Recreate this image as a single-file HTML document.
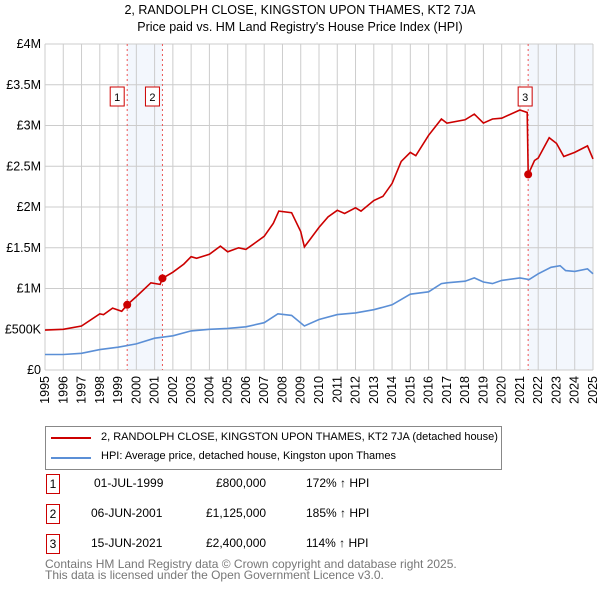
<!DOCTYPE html>
<html><head><meta charset="utf-8"><style>
body{margin:0;background:#fff;font-family:"Liberation Sans","DejaVu Sans",sans-serif;}
#wrap{position:relative;width:600px;height:590px;overflow:hidden}
.t{position:absolute;font-size:12px;color:#000;white-space:nowrap}
.box{position:absolute;border:1px solid #c00;width:12px;height:18px;text-align:center;line-height:18px;font-size:12px}
</style></head><body>
<div id="wrap">
<svg id="chart" width="600" height="420" style="position:absolute;left:0;top:0"></svg>
<div style="position:absolute;left:45px;top:426px;width:455px;height:42px;border:1px solid #888;">
 <div style="position:absolute;left:5px;top:10px;width:40px;height:2px;background:#c00"></div>
 <div class="t" style="left:55px;top:4px;font-size:11px">2, RANDOLPH CLOSE, KINGSTON UPON THAMES, KT2 7JA (detached house)</div>
 <div style="position:absolute;left:5px;top:30px;width:40px;height:2px;background:#5b8fd6"></div>
 <div class="t" style="left:55px;top:23px;font-size:11px">HPI: Average price, detached house, Kingston upon Thames</div>
</div>
<div>
 <div class="box" style="left:46px;top:474px">1</div>
 <div class="t" style="left:94px;top:476px">01-JUL-1999</div>
 <div class="t" style="left:216px;top:476px">£800,000</div>
 <div class="t" style="left:306px;top:476px">172% ↑ HPI</div>
 <div class="box" style="left:46px;top:504px">2</div>
 <div class="t" style="left:91px;top:506px">06-JUN-2001</div>
 <div class="t" style="left:206px;top:506px">£1,125,000</div>
 <div class="t" style="left:306px;top:506px">185% ↑ HPI</div>
 <div class="box" style="left:46px;top:534px">3</div>
 <div class="t" style="left:91px;top:536px">15-JUN-2021</div>
 <div class="t" style="left:206px;top:536px">£2,400,000</div>
 <div class="t" style="left:306px;top:536px">114% ↑ HPI</div>
</div>
<div class="t" style="left:45px;top:559px;color:#777;line-height:11px">Contains HM Land Registry data © Crown copyright and database right 2025.<br>This data is licensed under the Open Government Licence v3.0.</div>
</div>
<script>
const yTicks=[0,500000,1000000,1500000,2000000,2500000,3000000,3500000,4000000];
const yTickLabels=["£0","£500K","£1M","£1.5M","£2M","£2.5M","£3M","£3.5M","£4M"];
const xYears=[1995,1996,1997,1998,1999,2000,2001,2002,2003,2004,2005,2006,2007,2008,2009,2010,2011,2012,2013,2014,2015,2016,2017,2018,2019,2020,2021,2022,2023,2024,2025];
const saleLabels=["1","2","3"];
const saleDates=[1999.5,2001.43,2021.45];
const salePrices=[800000,1125000,2400000];
const hpiT=[1995,1996,1997,1998,1999,2000,2001,2002,2003,2004,2005,2006,2007,2007.75,2008.5,2009.2,2010,2011,2012,2013,2014,2015,2016,2016.7,2017,2018,2018.5,2019,2019.5,2020,2021,2021.5,2022,2022.7,2023.2,2023.5,2024,2024.7,2025];
const hpiV=[190000,190000,205000,250000,280000,320000,390000,420000,480000,500000,510000,530000,580000,690000,670000,540000,620000,680000,700000,740000,800000,930000,960000,1060000,1070000,1090000,1130000,1080000,1060000,1100000,1130000,1110000,1180000,1260000,1280000,1220000,1210000,1240000,1180000];
const redT=[1995,1996,1997,1998,1998.2,1998.7,1999.2,1999.5,2000,2000.8,2001.3,2001.43,2002,2002.6,2003,2003.3,2004,2004.6,2005,2005.6,2006,2006.5,2007,2007.5,2007.8,2008.5,2009,2009.2,2009.5,2010,2010.5,2011,2011.4,2012,2012.3,2013,2013.5,2014,2014.5,2015,2015.3,2016,2016.7,2017,2018,2018.5,2019,2019.5,2020,2021,2021.4,2021.45,2021.8,2022,2022.6,2023,2023.4,2024,2024.7,2025];
const redV=[490000,500000,540000,690000,680000,760000,720000,800000,900000,1070000,1050000,1125000,1200000,1300000,1390000,1370000,1420000,1520000,1450000,1500000,1480000,1560000,1640000,1800000,1950000,1930000,1700000,1510000,1600000,1750000,1880000,1960000,1920000,1990000,1950000,2080000,2130000,2290000,2560000,2670000,2630000,2880000,3080000,3030000,3070000,3140000,3030000,3080000,3090000,3190000,3160000,2400000,2570000,2600000,2850000,2780000,2620000,2670000,2750000,2590000];
const X0=45,X1=593,Y0=370,Y1=44;
const xs=t=>X0+(t-1995)/30*(X1-X0);
const ys=v=>Y0-v/4000000*(Y0-Y1);
const svg=document.getElementById('chart');
const NS='http://www.w3.org/2000/svg';
function mk(tag,attrs,parent){const e=document.createElementNS(NS,tag);for(const k in attrs)e.setAttribute(k,attrs[k]);(parent||svg).appendChild(e);return e;}
let e;
e=mk('rect',{x:xs(saleDates[0]),y:Y1,width:xs(saleDates[1])-xs(saleDates[0]),height:Y0-Y1,fill:'#eef3fc',opacity:0.7});


e=mk('rect',{x:xs(saleDates[2]),y:Y1,width:X1-xs(saleDates[2]),height:Y0-Y1,fill:'#eef3fc',opacity:0.7});


yTicks.forEach((v,i)=>{
 e=mk('line',{x1:X0,x2:X1,y1:ys(v),y2:ys(v),stroke:'#ccc','stroke-width':1});
 
 
 e=mk('text',{x:X0-4,y:ys(v)+4,'text-anchor':'end','font-size':12.5,fill:'#000'});
 e.textContent=yTickLabels[i];
 
 
});
xYears.forEach(yr=>{
 e=mk('line',{x1:xs(yr),x2:xs(yr),y1:Y1,y2:Y0,stroke:'#ccc','stroke-width':1});
 
 
 e=mk('text',{x:0,y:0,'font-size':12.5,fill:'#000','text-anchor':'end',transform:`translate(${xs(yr)+4},${Y0+6}) rotate(-90)`});
 e.textContent=yr;
 
 
});
saleDates.forEach((d,i)=>{
 e=mk('line',{x1:xs(d),x2:xs(d),y1:Y1,y2:Y0,stroke:'#e55','stroke-width':1,'stroke-dasharray':'2,3'});
 
 
});
const pts=(T,V)=>T.map((t,i)=>xs(t).toFixed(1)+','+ys(V[i]).toFixed(1)).join(' ');
e=mk('polyline',{points:pts(hpiT,hpiV),fill:'none',stroke:'#5b8fd6','stroke-width':1.6});


e=mk('polyline',{points:pts(redT,redV),fill:'none',stroke:'#cc0000','stroke-width':1.6});


saleDates.forEach((d,i)=>{
 e=mk('circle',{cx:xs(d),cy:ys(salePrices[i]),r:4,fill:'#cc0000'});
 
 
 e=mk('rect',{x:xs(d)-(i==2?10:17),y:87,width:14,height:19,fill:'#fff',stroke:'#c00'});
 
 
 e=mk('text',{x:xs(d)-(i==2?3:10),y:101,'text-anchor':'middle','font-size':11,fill:'#000'});
 e.textContent=saleLabels[i];
 
 
});
e=mk('text',{x:300,y:14,'text-anchor':'middle','font-size':12.5,fill:'#000'});
e.textContent='2, RANDOLPH CLOSE, KINGSTON UPON THAMES, KT2 7JA';


e=mk('text',{x:300,y:31,'text-anchor':'middle','font-size':12.5,fill:'#000'});
e.textContent="Price paid vs. HM Land Registry's House Price Index (HPI)";


</script>
</body></html>
